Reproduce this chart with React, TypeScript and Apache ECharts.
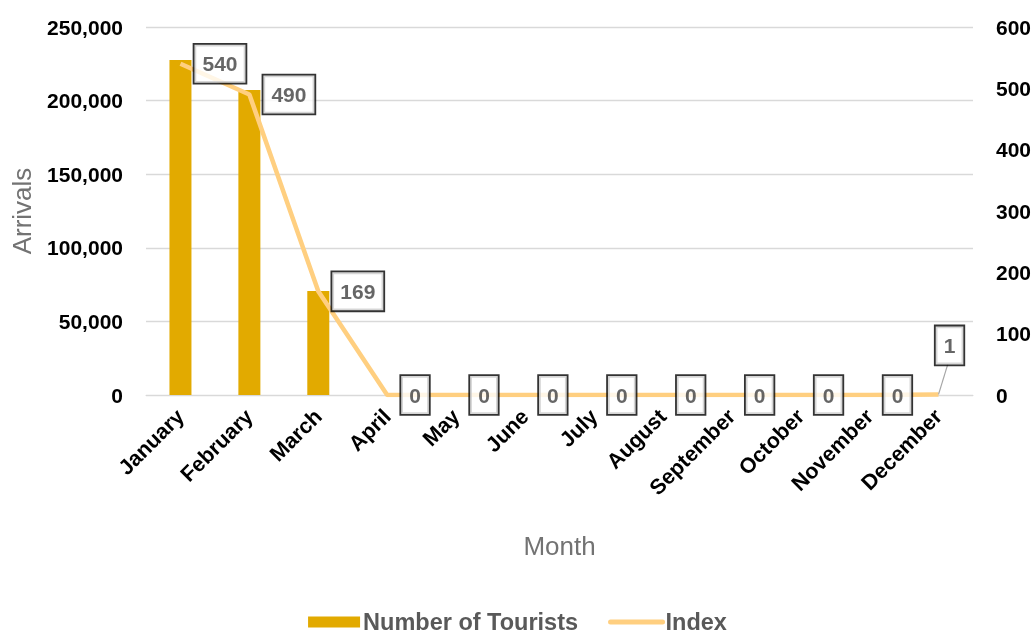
import React, { useEffect, useRef } from "react";
import * as echarts from "echarts";

const months = ["January", "February", "March", "April", "May", "June", "July", "August", "September", "October", "November", "December"];
const tourists = [227600, 207200, 70700, 0, 0, 0, 0, 0, 0, 0, 0, 0];
const indexValues = [540, 490, 169, 0, 0, 0, 0, 0, 0, 0, 0, 1];
const leftTicks = { min: 0, max: 250000, interval: 50000 };
const rightTicks = { min: 0, max: 600, interval: 100 };

export default function App() {
  const ref = useRef<HTMLDivElement>(null);
  useEffect(() => {
    if (!ref.current) return;
    const chart = echarts.init(ref.current, undefined, { renderer: "svg" });
    const font = "Arial, 'Liberation Sans', sans-serif";
    const boxLabel = {
      show: true,
      fontFamily: font,
      fontWeight: "bold" as const,
      fontSize: 21,
      lineHeight: 21,
      color: "#404040",
      backgroundColor: "#fff",
      borderColor: "#000",
      borderWidth: 1.8,
      padding: [9, 8, 8, 8],
    };
    const labelData = indexValues.map((v, i) => {
      if (i === 11)
        return {
          value: v,
          label: { ...boxLabel, position: "inside", offset: [11, -49] },
          labelLine: { show: true, lineStyle: { color: "#a6a6a6", width: 1.2 } },
        };
      return { value: v, label: { ...boxLabel, position: "right", distance: 14 } };
    });
    chart.setOption({
      animation: false,
      textStyle: { fontFamily: font },
      grid: { left: 146, right: 62, top: 27, bottom: 239, containLabel: false, outerBoundsMode: "none" },
      legend: {
        bottom: -5,
        left: "center",
        itemGap: 30,
        itemWidth: 52,
        itemHeight: 11,
        textStyle: { fontFamily: font, fontSize: 23.5, fontWeight: "bold", color: "#595959", padding: [0, 0, 0, -2] },
        data: [
          { name: "Number of Tourists", icon: "rect" },
          { name: "Index", itemStyle: { opacity: 0 }, lineStyle: { width: 5, cap: "round", color: "#FFCF80" } },
        ],
      },
      xAxis: {
        type: "category",
        data: months,
        name: "Month",
        nameLocation: "middle",
        nameGap: 138,
        nameTextStyle: { fontFamily: font, fontSize: 26, color: "#737373" },
        axisTick: { show: false },
        axisLine: { lineStyle: { color: "#d9d9d9" } },
        axisLabel: { rotate: 45, fontFamily: font, fontSize: 21.5, fontWeight: "bold", color: "#000", margin: 18 },
      },
      yAxis: [
        {
          type: "value",
          ...leftTicks,
          name: "Arrivals",
          nameLocation: "middle",
          nameGap: 111,
          nameTextStyle: { fontFamily: font, fontSize: 26, color: "#737373" },
          axisLabel: {
            fontFamily: font,
            fontSize: 21,
            fontWeight: "bold",
            color: "#000",
            margin: 23,
            formatter: (v: number) => v.toLocaleString("en-US"),
          },
          splitLine: { lineStyle: { color: "#d9d9d9", width: 1.3 } },
          axisLine: { show: false },
          axisTick: { show: false },
        },
        {
          type: "value",
          ...rightTicks,
          axisLabel: { fontFamily: font, fontSize: 21, fontWeight: "bold", color: "#000", margin: 23 },
          splitLine: { show: false },
          axisLine: { show: false },
          axisTick: { show: false },
        },
      ],
      series: [
        {
          name: "Number of Tourists",
          type: "bar",
          data: tourists,
          barWidth: 22,
          itemStyle: { color: "#E2AA00" },
        },
        {
          name: "Index",
          type: "line",
          yAxisIndex: 1,
          data: indexValues,
          symbol: "none",
          lineStyle: { color: "#FFCF80", width: 4.5 },
          itemStyle: { color: "#FFCF80" },
          z: 3,
        },
        {
          name: "IndexLabels",
          type: "scatter",
          yAxisIndex: 1,
          data: labelData,
          symbol: "circle",
          symbolSize: 0,
          silent: true,
          z: 4,
        },
      ],
    });
    return () => chart.dispose();
  }, []);
  return <div ref={ref} style={{ width: 1035, height: 634, position: "fixed", left: 0, top: 0 }} />;
}
